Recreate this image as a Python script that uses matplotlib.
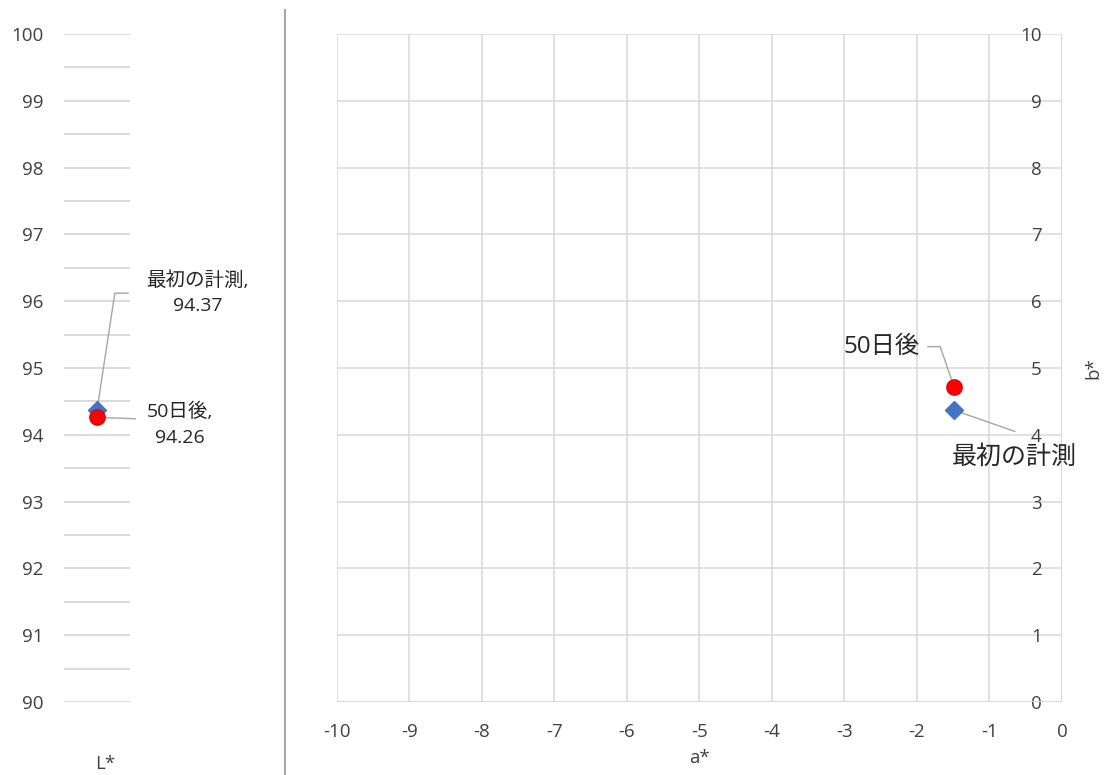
import matplotlib
matplotlib.use("Agg")
import matplotlib.pyplot as plt
from matplotlib.lines import Line2D
import numpy as np

plt.rcParams['font.family'] = ['Open Sans', 'Noto Sans CJK JP', 'DejaVu Sans']
plt.rcParams['axes.unicode_minus'] = False

# Measurements
series_names = ["最初の計測", "50日後"]
L_values = [94.37, 94.26]
a_values = [-1.49, -1.49]
b_values = [4.37, 4.72]
marker_styles = ["D", "o"]
marker_colors = ["#4472c4", "#ff0000"]
marker_edges = ["#4472c4", "#e00000"]

L_ticks = list(range(90, 101))
a_ticks = list(range(-10, 1))
b_ticks = list(range(0, 11))

W, H = 1107, 775
fig = plt.figure(figsize=(W / 100, H / 100), dpi=100)

def px_axes(x0, y0, x1, y1):
    return fig.add_axes([x0 / W, 1 - y1 / H, (x1 - x0) / W, (y1 - y0) / H])

grid_c = "#d9d9d9"
text_c = "#404040"
tick_fs = 13.5

# ---- L* panel ----
axL = px_axes(64, 34, 130, 702)
axL.set_xlim(0, 1)
axL.set_ylim(90, 100)
for v in np.arange(90, 100.01, 0.5):
    axL.axhline(v, color="#d4d4d4", lw=1.2, zorder=0)
axL.set_yticks(L_ticks)
axL.set_xticks([])
axL.tick_params(axis='y', length=0, pad=15, labelsize=tick_fs, labelcolor=text_c)
for s in axL.spines.values():
    s.set_visible(False)
axL.patch.set_alpha(0)
axL.text(0.62, 89.07, "L*", ha='center', va='center', fontsize=tick_fs, color=text_c)

for name, Lv, m, fc, ec in zip(series_names, L_values, marker_styles, marker_colors, marker_edges):
    axL.plot([0.5], [Lv], marker=m, ms=9 if m == "D" else 11, color=fc, mec=ec,
             ls='none', zorder=5, clip_on=False)

# Data labels on the L* panel
axL.plot([0.5, 0.77, 0.97], [L_values[0], 96.12, 96.12], color="#a6a6a6", lw=1, zorder=3, clip_on=False)
axL.text(2.02, 96.12, f"{series_names[0]},\n{L_values[0]:.2f}", ha='center', va='center',
         fontsize=14, color="#262626", linespacing=1.55)
axL.plot([0.5, 1.08], [L_values[1], L_values[1] - 0.02], color="#a6a6a6", lw=1, zorder=3, clip_on=False)
axL.text(1.76, 94.15, f"{series_names[1]},\n{L_values[1]:.2f}", ha='center', va='center',
         fontsize=14, color="#262626", linespacing=1.55)

# Separator between panels
fig.add_artist(Line2D([285 / W, 285 / W], [1 - 775 / H, 1 - 10 / H], color="#a6a6a6", lw=1.5))

# ---- a*/b* panel ----
ax = px_axes(337, 34, 1062, 702)
ax.set_xlim(-10, 0)
ax.set_ylim(0, 10)
ax.set_xticks(a_ticks)
ax.set_yticks(b_ticks)
ax.grid(True, color=grid_c, lw=1.1, zorder=0)
ax.set_axisbelow(True)
for s in ax.spines.values():
    s.set_visible(False)
ax.axhline(0, color=grid_c, lw=1.5, zorder=1)
ax.axvline(0, color=grid_c, lw=1.5, zorder=1)
ax.tick_params(axis='x', length=0, pad=15, labelsize=tick_fs, labelcolor=text_c)
ax.tick_params(axis='y', length=0, left=False, right=False, labelleft=False, labelright=True,
               pad=-14.5, labelsize=tick_fs, labelcolor=text_c)
for lab in ax.get_yticklabels():
    lab.set_horizontalalignment('right')
ax.set_xlabel("a*", fontsize=tick_fs, color=text_c, labelpad=6)
ax.yaxis.set_label_position('right')
ax.set_ylabel("b*", fontsize=tick_fs, color=text_c, rotation=90, labelpad=16)

for name, av, bv, m, fc, ec in zip(series_names, a_values, b_values, marker_styles, marker_colors, marker_edges):
    ax.plot([av], [bv], marker=m, ms=9 if m == "D" else 11, color=fc, mec=ec, ls='none', zorder=5)

# Data labels on the a*/b* panel
ax.plot([-1.85, -1.68, a_values[1]], [5.32, 5.32, b_values[1]], color="#a6a6a6", lw=1, zorder=3)
ax.text(-1.96, 5.32, series_names[1], ha='right', va='center', fontsize=17.5, color="#262626")
ax.plot([a_values[0], -0.65], [b_values[0], 4.05], color="#a6a6a6", lw=1, zorder=3)
ax.text(-1.52, 3.66, series_names[0], ha='left', va='center', fontsize=18, color="#262626")

fig.savefig("out.png", dpi=100, facecolor="white")
